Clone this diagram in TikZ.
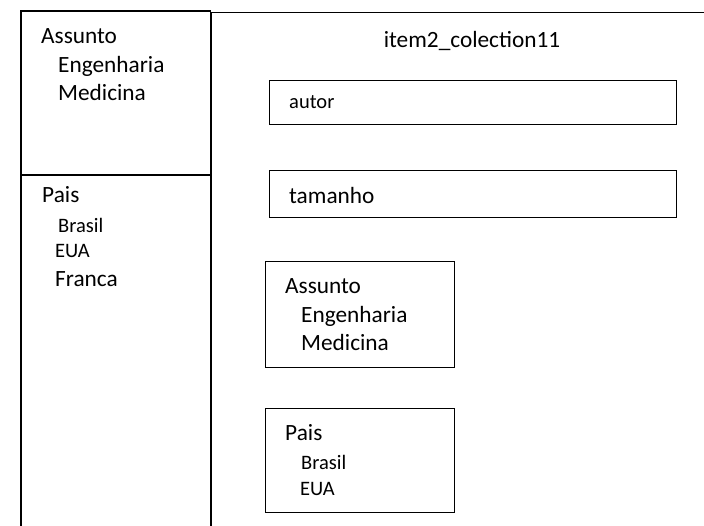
\documentclass[tikz,border=0pt]{standalone}
\usepackage{fontspec}
\setmainfont{Carlito}
\begin{document}
\begin{tikzpicture}[x=1pt,y=-1pt,
  frame/.style={line width=1.4pt},
  box/.style={draw,line width=1.4pt,inner sep=0pt,anchor=north west},
  big/.style={anchor=base west,inner sep=0pt,font=\fontsize{23.3}{28}\selectfont},
  mid/.style={anchor=base west,inner sep=0pt,font=\fontsize{20.5}{25}\selectfont}]
\useasboundingbox (0,0) rectangle (704,525);
% left column
\draw[frame] (21,526) -- (21,11) -- (210.5,11) -- (210.5,526);
\draw[frame] (21,175) -- (210.5,175);
% right frame
\draw[frame] (211.5,526) -- (211.5,12.5) -- (705,12.5);
% left texts
\node[big] (la) at (41,43) {Assunto};
\node[big] (le) at (58,72) {Engenharia};
\node[big] (lm) at (58,100) {Medicina};
\node[big] (lp) at (42,202) {Pais};
\node[mid] (lb) at (58,232) {Brasil};
\node[mid] (lu) at (55,257) {EUA};
\node[big] (lf) at (55,286) {Franca};
% right texts and boxes
\node[big,anchor=base] (title) at (472,47) {item2\_colection11};
\node[box,minimum width=407pt,minimum height=44pt] (autorbox) at (269,80) {};
\node[mid] (autor) at (289,108) {autor};
\node[box,minimum width=407pt,minimum height=47pt] (tambox) at (269,170) {};
\node[big] (tam) at (289,203) {tamanho};
\node[box,minimum width=189pt,minimum height=106pt] (assbox) at (265,261) {};
\node[big] (ra) at (285,293) {Assunto};
\node[big] (re) at (301,322) {Engenharia};
\node[big] (rm) at (301,350) {Medicina};
\node[box,minimum width=189pt,minimum height=104pt] (paisbox) at (265,408) {};
\node[big] (rp) at (285,440) {Pais};
\node[mid] (rb) at (301,469) {Brasil};
\node[mid] (ru) at (300,495) {EUA};
\end{tikzpicture}
\end{document}
